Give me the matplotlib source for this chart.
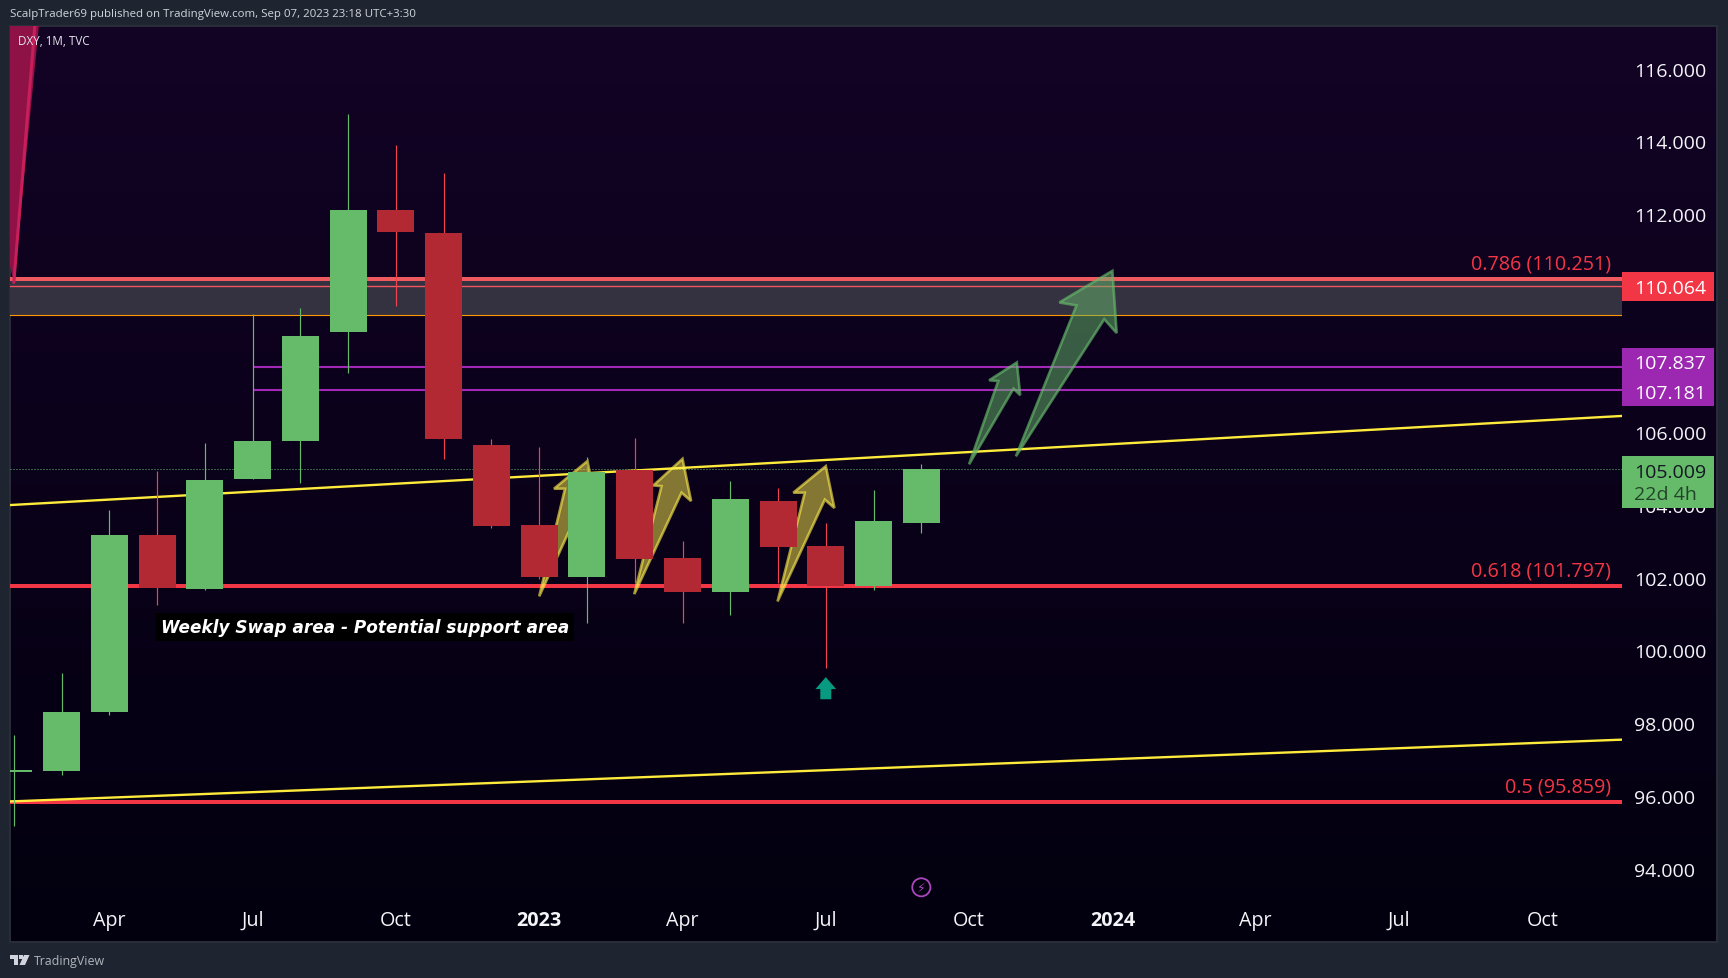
import numpy as np
import matplotlib
matplotlib.use("Agg")
import matplotlib.pyplot as plt
from matplotlib.patches import Polygon, Rectangle
from matplotlib.transforms import blended_transform_factory, ScaledTranslation

W, H = 1728, 979
FONT = "Open Sans"
plt.rcParams['font.family'] = [FONT, 'DejaVu Sans']

# ---- data ----
months = list(range(20))   # Feb 2022 .. Sep 2023
opens  = [96.70, 96.73, 98.33, 103.22, 101.73, 104.76, 105.78, 108.79, 112.15, 111.50, 105.67, 103.48, 102.06, 105.00, 102.57, 101.63, 104.13, 102.90, 101.80, 103.55]
highs  = [97.70, 99.42, 103.90, 104.97, 105.73, 109.27, 109.45, 114.79, 113.94, 113.15, 105.85, 105.64, 105.34, 105.87, 103.03, 104.70, 104.50, 103.55, 104.45, 105.15]
lows   = [95.20, 96.60, 98.27, 101.27, 101.70, 104.74, 104.64, 107.67, 109.50, 105.30, 103.40, 102.00, 100.80, 101.90, 100.80, 101.00, 101.90, 99.55, 101.70, 103.25]
closes = [96.74, 98.33, 103.22, 101.75, 104.73, 105.80, 108.67, 112.15, 111.55, 105.85, 103.45, 102.06, 104.94, 102.54, 101.63, 104.20, 102.87, 101.80, 103.60, 105.009]
is_up  = [True, True, True, False, True, True, True, True, False, False, False, False, True, False, False, True, False, False, True, True]

tick_months = [2, 5, 8, 11, 14, 17, 20, 23, 26, 29, 32]
tick_labels = ["Apr", "Jul", "Oct", "2023", "Apr", "Jul", "Oct", "2024", "Apr", "Jul", "Oct"]
price_ticks = [94, 96, 98, 100, 102, 104, 106, 112, 114, 116]

fib_levels = [110.251, 101.797, 95.859]
fib_labels = ["0.786 (110.251)", "0.618 (101.797)", "0.5 (95.859)"]
thin_red = 110.064
orange_level = 109.25
purple_levels = [107.837, 107.181]
last_price = 105.009
upper_trend = [104.03, 106.48]
lower_trend = [95.88, 97.58]

yellow_arrows = [
    [(11.00, 101.52), (11.54, 104.48), (11.31, 104.48), (12.01, 105.24), (12.18, 104.09), (11.98, 104.33)],
    [(12.99, 101.58), (13.56, 104.55), (13.39, 104.57), (14.00, 105.30), (14.18, 104.14), (13.98, 104.37)],
    [(15.99, 101.38), (16.56, 104.37), (16.32, 104.37), (17.00, 105.10), (17.18, 103.95), (16.98, 104.18)],
]
green_arrows = [
    [(20.00, 105.15), (20.61, 107.44), (20.42, 107.46), (21.00, 107.95), (21.07, 107.05), (20.93, 107.23)],
    [(20.98, 105.37), (22.25, 109.52), (21.89, 109.60), (23.00, 110.47), (23.09, 108.76), (22.83, 109.14)],
]
teal_arrow = [(17.0, 99.30), (17.217, 98.97), (17.115, 98.97), (17.115, 98.69), (16.885, 98.69), (16.885, 98.97), (16.783, 98.97)]
wedge = [(0.0, 110.15), (-0.08, 110.6), (-0.08, 117.21), (0.525, 117.21)]
wedge_edge = [(0.0, 110.15), (0.44, 117.21)]

# ---- figure ----
PANEL = "#1f2530"
fig = plt.figure(figsize=(W / 100, H / 100), dpi=100, facecolor=PANEL)

def box(x0, y0, x1, y1):
    return [x0 / W, 1 - y1 / H, (x1 - x0) / W, (y1 - y0) / H]

# gradient pane (plot + price scale)
bg = fig.add_axes(box(10, 27, 1717, 943), zorder=0)
top_col = np.array([19, 3, 37]) / 255
bot_col = np.array([2, 0, 15]) / 255
t = np.linspace(0, 1, 256)[:, None, None]
bg.imshow(top_col[None, None, :] * (1 - t) + bot_col[None, None, :] * t, aspect="auto", extent=(0, 1, 0, 1))
bg.set_xticks([]); bg.set_yticks([])
for s in bg.spines.values():
    s.set_color("#2a2e39"); s.set_linewidth(1.4)

ax = fig.add_axes(box(10, 27, 1622, 943), zorder=1)
ax.patch.set_alpha(0)
XL = (-0.08, 33.67)
ax.set_xlim(*XL)
ax.set_ylim(92.016, 117.202)
for s in ax.spines.values():
    s.set_visible(False)

# zone and horizontal levels
ax.add_patch(Rectangle((XL[0], orange_level), XL[1] - XL[0], fib_levels[0] - orange_level, fc="#343141", ec="none", zorder=1))
ax.axhline(thin_red, color="#f2555f", lw=1.0, zorder=2)
ax.axhline(orange_level, color="#ff9800", lw=0.8, zorder=2)
ax.hlines(purple_levels, 5.0, XL[1], color="#a328b8", lw=1.5, zorder=2)
ax.axhline(last_price, color="#66bb6a", lw=0.72, ls=(0, (1, 2)), zorder=2)
ax.axhline(fib_levels[0], color="#ef5a5f", lw=2.9, zorder=2)
ax.axhline(fib_levels[1], color="#f23645", lw=2.9, zorder=2)
ax.axhline(fib_levels[2], color="#f23645", lw=2.9, zorder=2)
ax.plot(XL, upper_trend, color="#ffeb3b", lw=1.7, zorder=3)
ax.plot(XL, lower_trend, color="#ffeb3b", lw=1.7, zorder=3)

# wedge top-left
ax.add_patch(Polygon(wedge, closed=True, fc="#8f1247", ec="none", zorder=3))
ax.plot(*zip(*wedge_edge), color="#c81f5b", lw=2.2, zorder=3, solid_capstyle="round")

# hand-drawn arrows
for a in yellow_arrows:
    ax.add_patch(Polygon(a, closed=True, fc=(1.0, 0.93, 0.3, 0.5), ec=(1.0, 0.93, 0.3, 0.62), lw=1.9, zorder=4, joinstyle="miter"))
for a in green_arrows:
    ax.add_patch(Polygon(a, closed=True, fc=(0.4, 0.73, 0.42, 0.5), ec=(0.4, 0.73, 0.42, 0.65), lw=1.9, zorder=4, joinstyle="miter"))

# candles
BODY = 0.775
for m, o, h, l, c, up in zip(months, opens, highs, lows, closes, is_up):
    wick = "#66bb6a" if up else "#f2444f"
    body = "#66bb6a" if up else "#b22833"
    ax.plot([m, m], [l, h], color=wick, lw=0.85, zorder=5, solid_capstyle="butt")
    lo, hi = min(o, c), max(o, c)
    ax.add_patch(Rectangle((m - BODY / 2, lo), BODY, max(hi - lo, 0.03), fc=body, ec="none", zorder=6))

ax.add_patch(Polygon(teal_arrow, closed=True, fc="#089981", ec="none", zorder=7))

# labels
for lvl, lab in zip(fib_levels, fib_labels):
    ax.annotate(lab, (0.9932, lvl), xycoords=ax.get_yaxis_transform(),
                xytext=(0, 11), textcoords="offset points", ha="right", va="center", fontsize=14.2, color="#f23645", zorder=8)
ax.text(3.08, 100.68, "Weekly Swap area - Potential support area", family="DejaVu Sans", ha="left", va="center",
        fontsize=12.15, fontweight="bold", fontstyle="italic", color="white", zorder=8,
        bbox=dict(boxstyle="square,pad=0.3", fc="#000000", ec="none"))

# bolt icon
ax.scatter([19], [93.52], s=170, facecolor="none", edgecolor="#ab47bc", lw=1.3, zorder=8)
ax.text(19, 93.52, "\u26a1", family="DejaVu Sans", fontsize=9, color="#ab47bc", ha="center", va="center", zorder=8)

# axes ticks
ax.set_xticks(tick_months)
ax.set_xticklabels(tick_labels)
ax.tick_params(axis="x", length=0, pad=-23, labelsize=14.2, labelcolor="#f4f5f8")
for lab in ax.get_xticklabels():
    lab.set_fontweight("medium")
    if lab.get_text().isdigit():
        lab.set_fontweight("bold")
ax.yaxis.tick_right()
ax.set_yticks(price_ticks)
ax.set_yticklabels([f"{p:.3f}" for p in price_ticks])
ax.tick_params(axis="y", length=0, pad=8.7, labelsize=14.0, labelcolor="#f4f5f8")
up_1px = ScaledTranslation(0, 1.2 / 100, fig.dpi_scale_trans)
for lab in ax.get_yticklabels():
    lab.set_fontweight("medium")
    lab.set_transform(lab.get_transform() + up_1px)

# price tags
tr = blended_transform_factory(ax.transAxes, ax.transData)
TX0, TX1 = 1.0, 1 + 92 / 1612
TXT = 1 + 12 / 1612
def tag(p_top, p_bot, col):
    ax.add_patch(Rectangle((TX0, p_bot), TX1 - TX0, p_top - p_bot, transform=tr, fc=col, ec="none", clip_on=False, zorder=9))
def tagtext(p, s, col, **k):
    ax.text(TXT, p, s, transform=tr, color=col, fontsize=14.0, ha="left", va="center", clip_on=False, zorder=10, **k)
tag(110.43, 109.63, "#f23645")
tagtext(110.01, "110.064", "white", fontweight="medium")
tag(108.34, 106.75, "#9c27b0")
tagtext(107.93, "107.837", "white", fontweight="medium")
tagtext(107.11, "107.181", "white", fontweight="medium")
tag(105.37, 103.95, "#66bb6a")
tagtext(104.93, "105.009", "#131722")
tagtext(104.33, "22d 4h", "#22452a")

# header/footer/legend
fig.text(10 / W, 1 - 14.5 / H, "ScalpTrader69 published on TradingView.com, Sep 07, 2023 23:18 UTC+3:30",
         color="#d1d4dc", fontsize=8.26, fontweight="medium", ha="left", va="center")
fig.text(18 / W, 1 - 41.5 / H, "DXY, 1M, TVC", color="#e4e6ee", fontsize=8.4, fontweight="medium", ha="left", va="center", zorder=5)
fig.text(33.5 / W, 1 - 961.5 / H, "TradingView", color="#b2b5be", fontsize=8.9, ha="left", va="center")

# logo
def px(points):
    return [(x / W, 1 - y / H) for x, y in points]
LOGO = "#d1d4dc"
fig.add_artist(Polygon(px([(10, 956), (18, 956), (18, 966), (14, 966), (14, 960), (10, 960)]), closed=True, fc=LOGO, ec="none", transform=fig.transFigure))
fig.add_artist(Polygon(px([(19, 956), (23, 956), (23, 960), (19, 960)]), closed=True, fc=LOGO, ec="none", transform=fig.transFigure))
fig.add_artist(Polygon(px([(24, 956), (29.5, 956), (25, 966), (19.5, 966)]), closed=True, fc=LOGO, ec="none", transform=fig.transFigure))

fig.savefig("out.png", dpi=100, facecolor=PANEL)
